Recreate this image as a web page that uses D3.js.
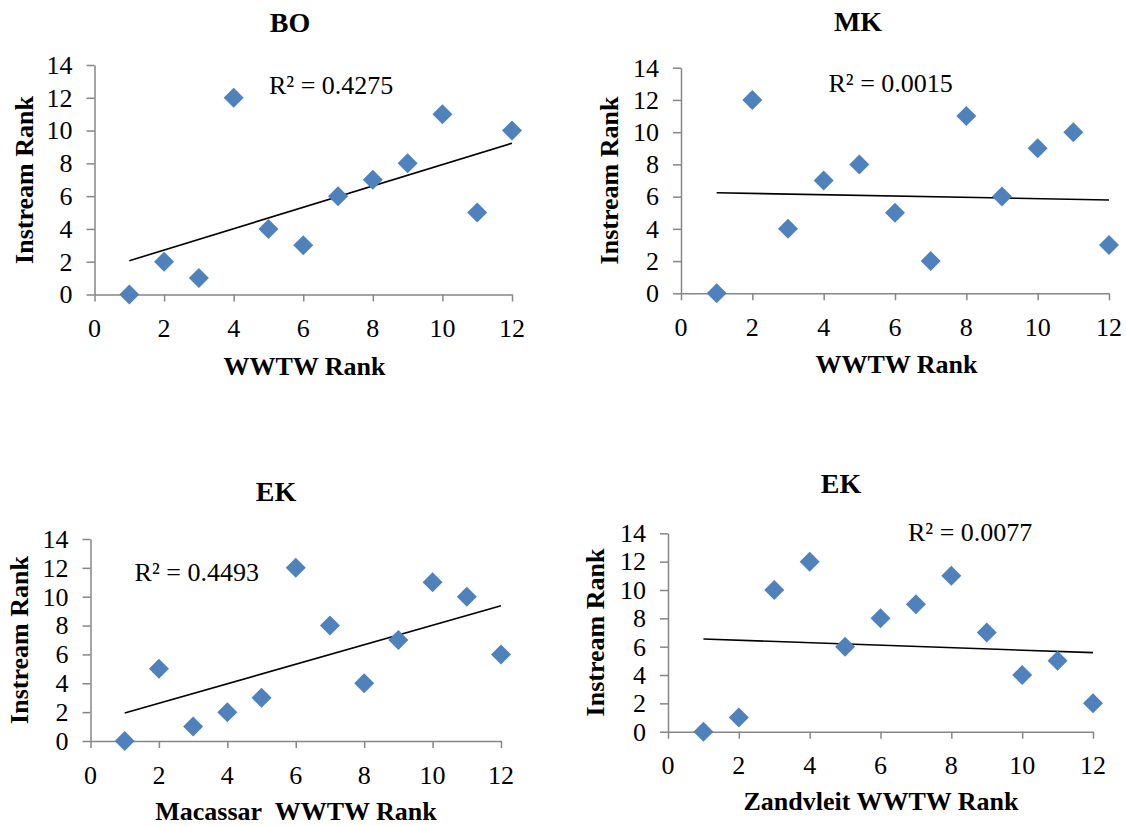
<!DOCTYPE html>
<html>
<head>
<meta charset="utf-8">
<script src="https://cdn.jsdelivr.net/npm/d3@7"></script>
<style>
  html, body { margin: 0; padding: 0; background: #fff; }
  svg { display: block; }
</style>
</head>
<body>
<svg id="chart" width="1126" height="826"></svg>
<script>
// ---- data ----
const xTickValues = [0, 2, 4, 6, 8, 10, 12];
const yTickValues = [0, 2, 4, 6, 8, 10, 12, 14];
const wwtwRank = [1, 2, 3, 4, 5, 6, 7, 8, 9, 10, 11, 12];
const boInstream = [0, 2, 1, 12, 4, 3, 6, 7, 8, 11, 5, 10];
const mkInstream = [0, 12, 4, 7, 8, 5, 2, 11, 6, 9, 10, 3];
const ekMacassarInstream = [0, 5, 1, 2, 3, 12, 8, 4, 7, 11, 10, 6];
const ekZandvleitInstream = [0, 1, 10, 12, 6, 8, 9, 11, 7, 4, 5, 2];
const panelTitles = ["BO", "MK", "EK", "EK"];
const xAxisTitles = ["WWTW Rank", "WWTW Rank", "Macassar\u00A0 WWTW Rank", "Zandvleit WWTW Rank"];
const yAxisTitle = "Instream Rank";
const rSquaredLabels = ["R\u00B2 = 0.4275", "R\u00B2 = 0.0015", "R\u00B2 = 0.4493", "R\u00B2 = 0.0077"];
const trendX = [1, 12];
const trendStartY = [2.06, 6.24, 1.94, 6.54];
const trendEndY = [9.23, 5.79, 9.38, 5.58];

const seriesList = [boInstream, mkInstream, ekMacassarInstream, ekZandvleitInstream];

// ---- layout (pixel geometry of each panel) ----
const layout = [
  { x0: 94.5, x1: 512, y0: 294.5, y1: 65,  title: [290, 32],  xt: [304.5, 375], yt: [24, 180],  r2: [269, 93.5] },
  { x0: 681,  x1: 1109, y0: 293.3, y1: 67.7, title: [858, 31], xt: [896.5, 373], yt: [609, 180.5], r2: [828.5, 91.7] },
  { x0: 90.5, x1: 501, y0: 741, y1: 539,   title: [276, 501], xt: [296, 820],  yt: [19, 640],  r2: [134.6, 580.7] },
  { x0: 668,  x1: 1093, y0: 731.7, y1: 533.3, title: [841, 493], xt: [881, 810], yt: [595, 632.5], r2: [908, 541] }
];

const svg = d3.select("#chart");
const axisColor = "#868686";
const markerColor = "#4F81BD";
const serif = "'Liberation Serif', 'Times New Roman', serif";
const tickFont = 26;
const titleFont = 28;
const axisTitleFont = 26;

function txt(sel, size, bold) {
  return sel.attr("font-family", serif)
    .attr("font-size", size)
    .attr("font-weight", bold ? "bold" : "normal")
    .attr("fill", "#000");
}

seriesList.forEach((series, i) => {
  const L = layout[i];
  const x = d3.scaleLinear().domain([0, 12]).range([L.x0, L.x1]);
  const y = d3.scaleLinear().domain([0, 14]).range([L.y0, L.y1]);
  const g = svg.append("g");

  // axis lines and ticks via d3 axes (labels drawn separately)
  const xa = g.append("g")
    .attr("transform", `translate(0,${L.y0})`)
    .call(d3.axisBottom(x).tickValues(xTickValues).tickSize(7).tickSizeOuter(0).tickFormat(""));
  const ya = g.append("g")
    .attr("transform", `translate(${L.x0},0)`)
    .call(d3.axisLeft(y).tickValues(yTickValues).tickSize(8).tickSizeOuter(0).tickFormat(""));
  [xa, ya].forEach(a => {
    a.select(".domain").attr("stroke", axisColor).attr("stroke-width", 1.5);
    a.selectAll(".tick line").attr("stroke", axisColor).attr("stroke-width", 1.5);
    a.selectAll(".tick text").remove();
  });

  // x tick labels
  txt(g.append("g").selectAll("text")
    .data(xTickValues).join("text")
    .attr("x", d => x(d))
    .attr("y", L.y0 + 42.5)
    .attr("text-anchor", "middle")
    .text(d => d), tickFont, false);

  // y tick labels
  txt(g.append("g").selectAll("text")
    .data(yTickValues).join("text")
    .attr("x", L.x0 - 22)
    .attr("y", d => y(d))
    .attr("dy", "0.34em")
    .attr("text-anchor", "end")
    .text(d => d), tickFont, false);

  // trend line
  g.append("line")
    .attr("x1", x(trendX[0])).attr("y1", y(trendStartY[i]))
    .attr("x2", x(trendX[1])).attr("y2", y(trendEndY[i]))
    .attr("stroke", "#000").attr("stroke-width", 1.6);

  // markers (diamonds)
  const sym = d3.symbol().type(d3.symbolSquare).size(200);
  g.selectAll("path.pt")
    .data(series.map((v, k) => ({ xv: wwtwRank[k], yv: v })))
    .join("path")
    .attr("class", "pt")
    .attr("d", sym)
    .attr("transform", d => `translate(${x(d.xv)},${y(d.yv)}) rotate(45)`)
    .attr("fill", markerColor);

  // title
  txt(g.append("text")
    .attr("x", L.title[0]).attr("y", L.title[1])
    .attr("text-anchor", "middle")
    .text(panelTitles[i]), titleFont, true);

  // x axis title
  txt(g.append("text")
    .attr("x", L.xt[0]).attr("y", L.xt[1])
    .attr("text-anchor", "middle")
    .text(xAxisTitles[i]), axisTitleFont, true);

  // y axis title
  txt(g.append("text")
    .attr("transform", `translate(${L.yt[0]},${L.yt[1]}) rotate(-90)`)
    .attr("text-anchor", "middle")
    .attr("dy", "0.35em")
    .text(yAxisTitle), axisTitleFont, true);

  // R squared label
  txt(g.append("text")
    .attr("x", L.r2[0]).attr("y", L.r2[1])
    .text(rSquaredLabels[i]), 26, false);
});
</script>
</body>
</html>
